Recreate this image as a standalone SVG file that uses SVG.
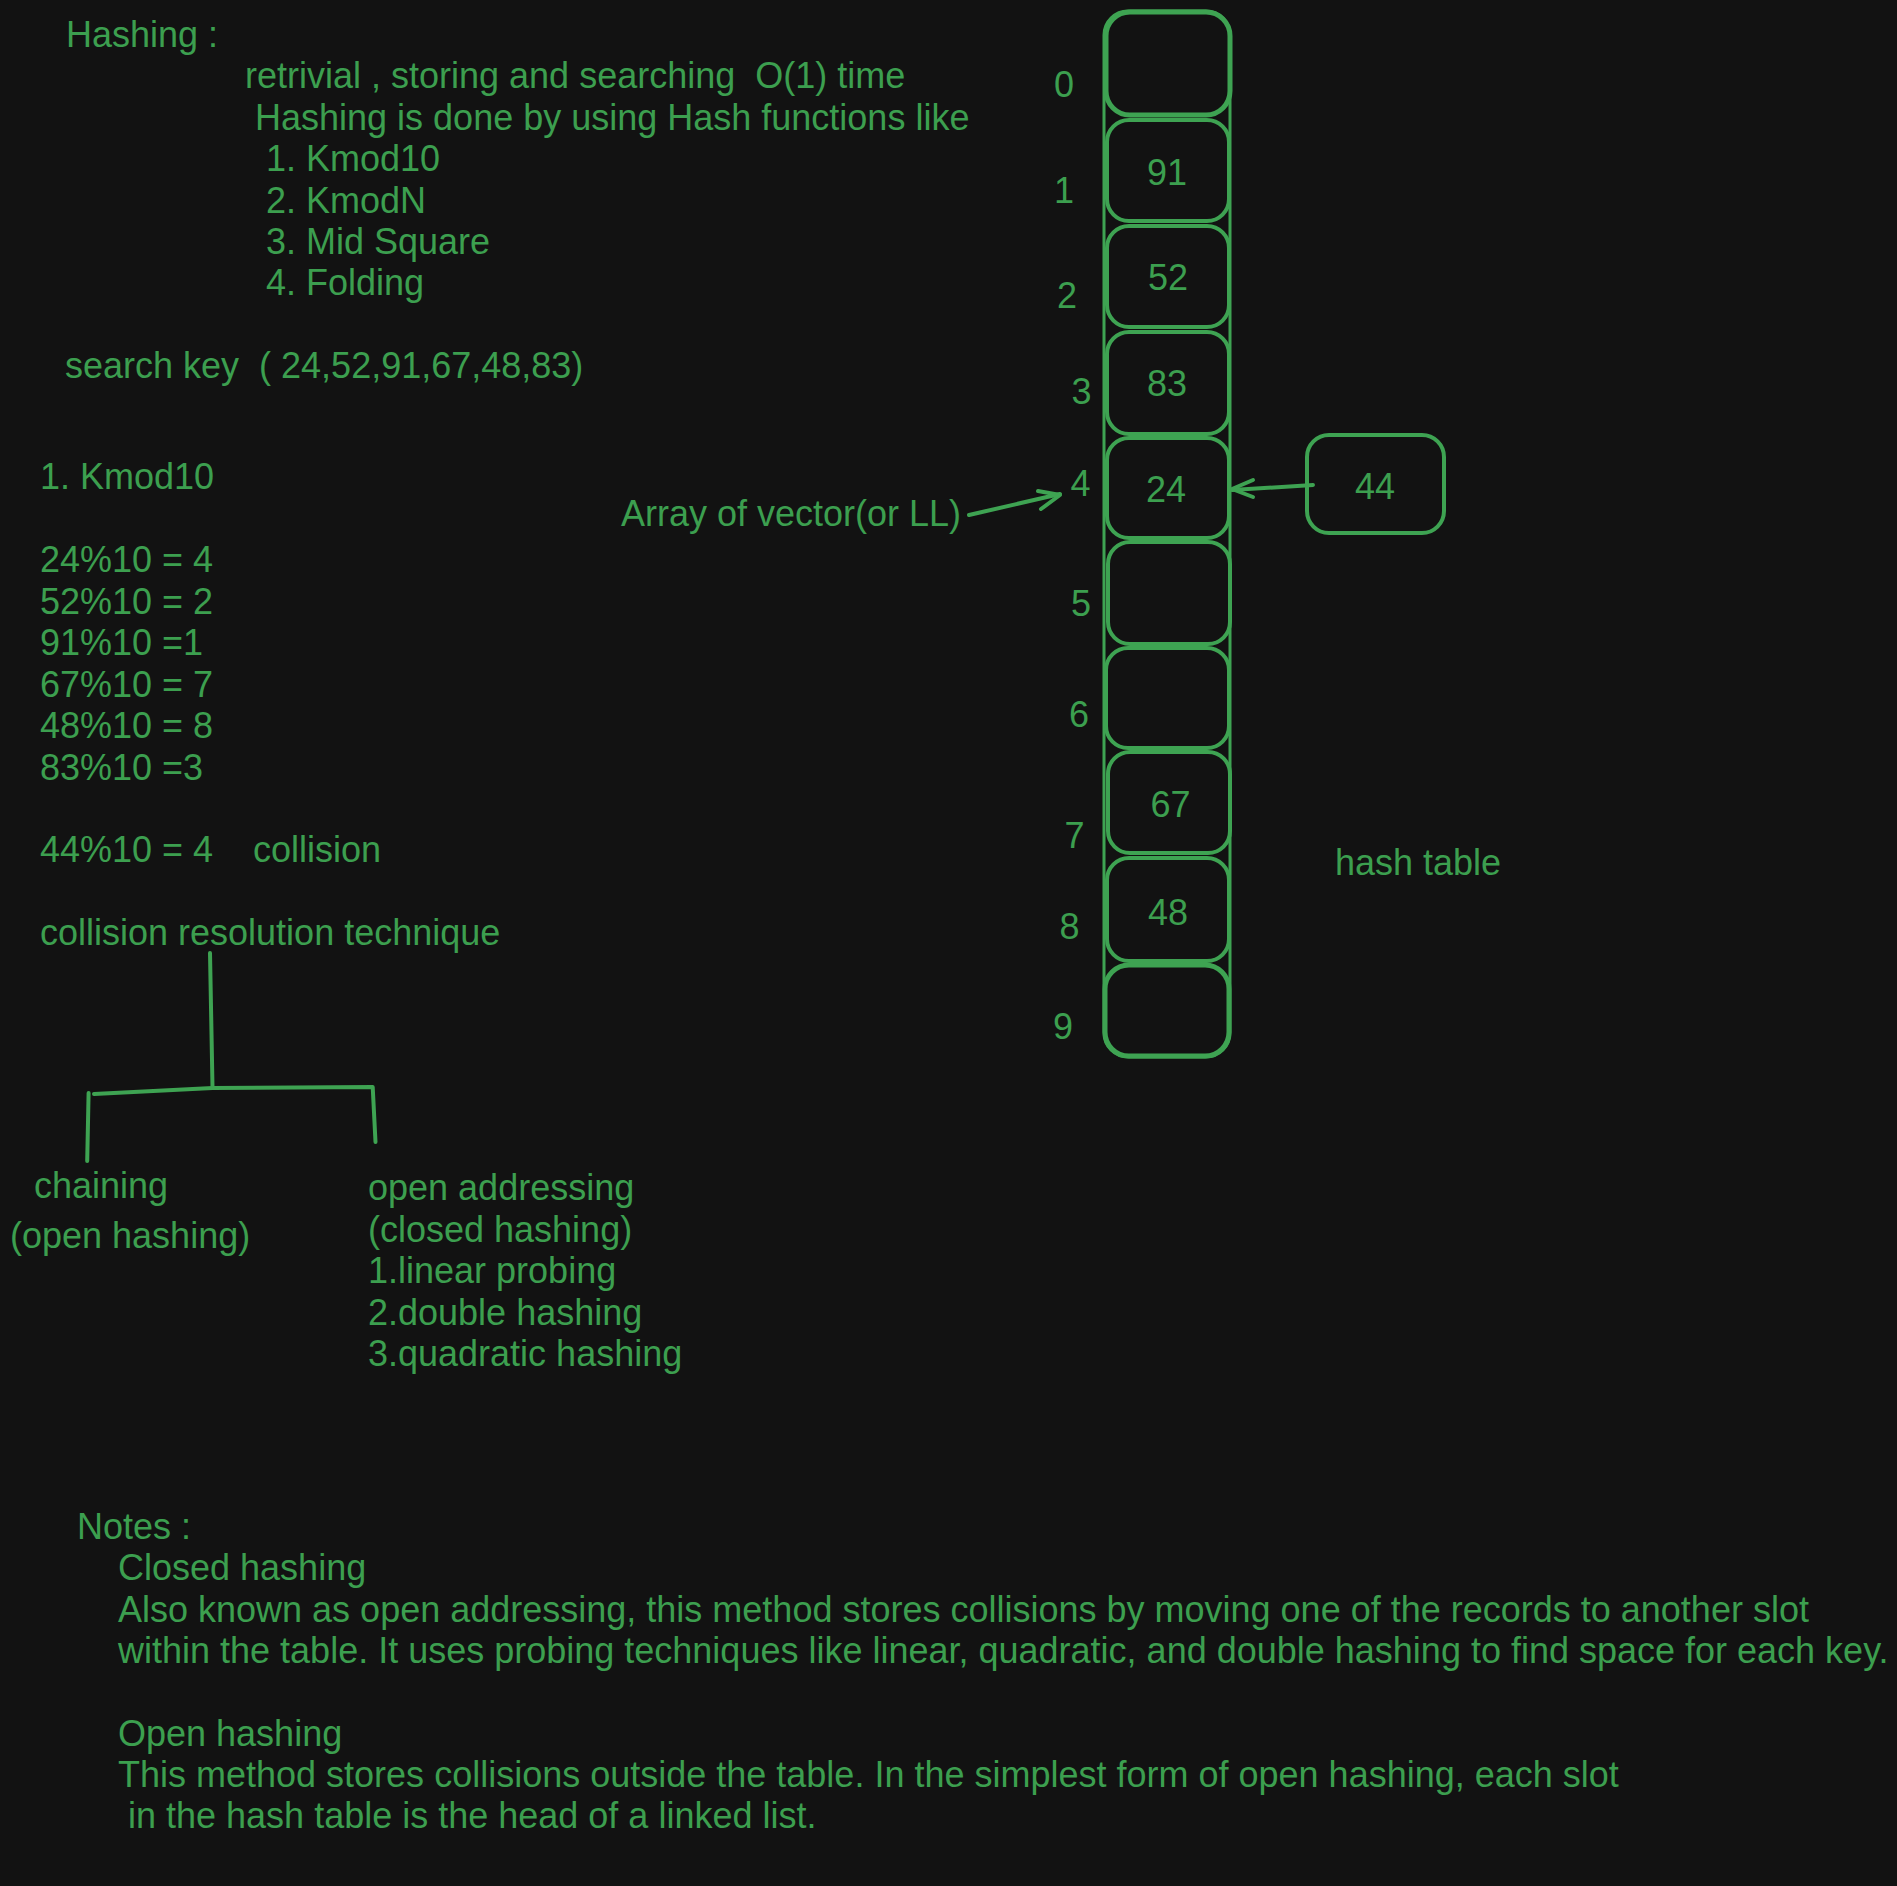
<svg xmlns="http://www.w3.org/2000/svg" width="1897" height="1886" viewBox="0 0 1897 1886">
<style>
  text { font-family: "Liberation Sans", Arial, Helvetica, sans-serif; font-size: 36px; fill: #3c9f4f; white-space: pre; }
  .mid { text-anchor: middle; }
  .cell { fill: none; stroke: #3ea352; stroke-width: 4; }
  .box { fill: none; stroke: #3ea352; stroke-width: 3; }
  .ln { fill: none; stroke: #3ea352; stroke-width: 4; stroke-linecap: round; stroke-linejoin: round; }
</style>
<rect width="1897" height="1886" fill="#121212"/>

<g id="intro">
  <text x="66" y="47">Hashing :</text>
  <text x="245" y="88" xml:space="preserve">retrivial , storing and searching  O(1) time</text>
  <text x="255" y="129.5">Hashing is done by using Hash functions like</text>
  <text x="266" y="171">1. Kmod10</text>
  <text x="266" y="212.5">2. KmodN</text>
  <text x="266" y="254">3. Mid Square</text>
  <text x="266" y="295">4. Folding</text>
  <text x="65" y="378" xml:space="preserve">search key  ( 24,52,91,67,48,83)</text>
</g>

<g id="kmod-block">
  <text x="40" y="489">1. Kmod10</text>
  <text x="40" y="572">24%10 = 4</text>
  <text x="40" y="613.5">52%10 = 2</text>
  <text x="40" y="655">91%10 =1</text>
  <text x="40" y="696.5">67%10 = 7</text>
  <text x="40" y="738">48%10 = 8</text>
  <text x="40" y="779.5">83%10 =3</text>
  <text x="40" y="862">44%10 = 4</text>
  <text x="253" y="862">collision</text>
  <text x="40" y="944.5">collision resolution technique</text>
</g>

<g id="chaining">
  <text x="34" y="1197.5">chaining</text>
  <text x="10" y="1247.5">(open hashing)</text>
</g>

<g id="open-addressing">
  <text x="368" y="1200">open addressing</text>
  <text x="368" y="1241.5">(closed hashing)</text>
  <text x="368" y="1283">1.linear probing</text>
  <text x="368" y="1324.5">2.double hashing</text>
  <text x="368" y="1366">3.quadratic hashing</text>
</g>

<g id="array-label">
  <text x="621" y="525.5">Array of vector(or LL)</text>
</g>

<g id="hash-table-label">
  <text x="1335" y="874.5">hash table</text>
</g>

<g id="hash-table">
  <rect class="box" x="1104" y="11" width="126" height="1046" rx="24"/>
  <g id="cell-0"><rect class="cell" x="1106" y="12" width="124" height="103" rx="24" style="stroke-width:5"/></g>
  <g id="cell-1"><rect class="cell" x="1107" y="120" width="122" height="101" rx="22"/><text class="mid" x="1167" y="185">91</text></g>
  <g id="cell-2"><rect class="cell" x="1107" y="226" width="122" height="101" rx="22"/><text class="mid" x="1168" y="289.5">52</text></g>
  <g id="cell-3"><rect class="cell" x="1107" y="332" width="122" height="102" rx="22"/><text class="mid" x="1167" y="396">83</text></g>
  <g id="cell-4"><rect class="cell" x="1107" y="438" width="122" height="100" rx="22"/><text class="mid" x="1166" y="501.5">24</text></g>
  <g id="cell-5"><rect class="cell" x="1108" y="542" width="122" height="102" rx="22"/></g>
  <g id="cell-6"><rect class="cell" x="1106" y="648" width="123" height="100" rx="22"/></g>
  <g id="cell-7"><rect class="cell" x="1108" y="752" width="122" height="101" rx="22"/><text class="mid" x="1170.5" y="816.5">67</text></g>
  <g id="cell-8"><rect class="cell" x="1107" y="858" width="122" height="103" rx="22"/><text class="mid" x="1168" y="925">48</text></g>
  <g id="cell-9"><rect class="cell" x="1105" y="965" width="124" height="91" rx="24" style="stroke-width:5"/></g>
</g>

<g id="indices">
  <text class="mid" x="1064" y="97">0</text>
  <text class="mid" x="1064" y="203">1</text>
  <text class="mid" x="1067" y="308">2</text>
  <text class="mid" x="1081.5" y="404">3</text>
  <text class="mid" x="1080.5" y="495.5">4</text>
  <text class="mid" x="1081" y="616">5</text>
  <text class="mid" x="1079" y="727">6</text>
  <text class="mid" x="1074.5" y="848">7</text>
  <text class="mid" x="1069.5" y="939">8</text>
  <text class="mid" x="1063" y="1038.5">9</text>
</g>

<g id="node-44">
  <rect class="cell" x="1307" y="435" width="137" height="98" rx="22"/>
  <text class="mid" x="1375" y="498.5">44</text>
</g>

<g id="notes">
  <text x="77" y="1538.5">Notes :</text>
  <text x="118" y="1580">Closed hashing</text>
  <text x="118" y="1621.5">Also known as open addressing, this method stores collisions by moving one of the records to another slot</text>
  <text x="118" y="1663">within the table. It uses probing techniques like linear, quadratic, and double hashing to find space for each key.</text>
  <text x="118" y="1745.5">Open hashing</text>
  <text x="118" y="1787">This method stores collisions outside the table. In the simplest form of open hashing, each slot</text>
  <text x="128" y="1828">in the hash table is the head of a linked list.</text>
</g>

<g id="connectors">
  <path class="ln" d="M969 515 L1060 494"/>
  <path class="ln" d="M1038 491 L1060 495 L1041 509"/>
  <path class="ln" d="M1313 485 L1232 490"/>
  <path class="ln" d="M1253 480 L1232 489 L1253 497"/>
  <path class="ln" d="M210 953 L212.5 1087"/>
  <path class="ln" d="M94 1094 L212.5 1088 L372.7 1087 L375.5 1142"/>
  <path class="ln" d="M88.6 1093 L87.2 1161"/>
</g>
</svg>
